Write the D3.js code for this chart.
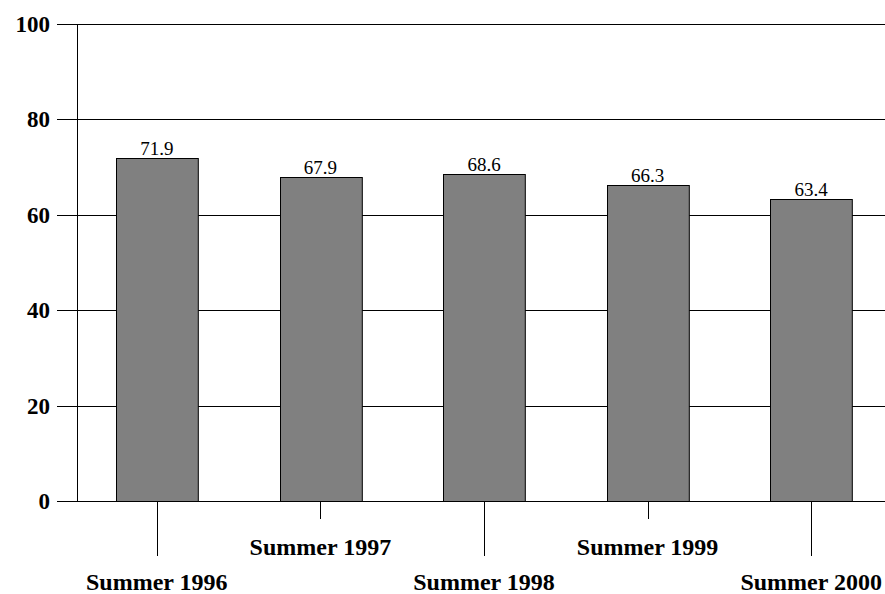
<!DOCTYPE html>
<html><head><meta charset="utf-8">
<script src="https://cdn.jsdelivr.net/npm/d3@7/dist/d3.min.js"></script>
<style>body{margin:0;background:#fff}svg{display:block}</style>
</head><body>
<script>
const categories = ["Summer 1996","Summer 1997","Summer 1998","Summer 1999","Summer 2000"];
const values = [71.9, 67.9, 68.6, 66.3, 63.4];
const yTicks = [0, 20, 40, 60, 80, 100];
const title = "(Percentages)";

const W = 885, H = 594;
const svg = d3.select("body").append("svg").attr("width", W).attr("height", H);
const serif = "'Liberation Serif','Times New Roman',serif";

const x = d3.scaleBand().domain(categories).range([75, 893]).paddingInner(0.5).paddingOuter(0.25);
const y = d3.scaleLinear().domain([0, 100]).range([501, 24]);

// title (cut off at the top edge, as in the reference)
svg.append("text").attr("x", 482).attr("y", -7).attr("font-family", serif)
  .attr("font-weight", "bold").attr("font-size", 29).text(title);

// gridlines
svg.append("g").selectAll("line").data(yTicks).join("line")
  .attr("x1", 57).attr("x2", W).attr("y1", d => Math.round(y(d)) + 0.5).attr("y2", d => Math.round(y(d)) + 0.5)
  .attr("stroke", "#000").attr("stroke-width", 1);

// y axis line
svg.append("line").attr("x1", 77.5).attr("x2", 77.5).attr("y1", y(100)).attr("y2", y(0))
  .attr("stroke", "#000").attr("stroke-width", 1);

// y labels
svg.append("g").selectAll("text").data(yTicks).join("text")
  .attr("x", 50).attr("y", d => y(d)).attr("dy", "0.35em").attr("text-anchor", "end")
  .attr("font-family", serif).attr("font-weight", "bold").attr("font-size", 23)
  .text(d => d);

// bars
svg.append("g").selectAll("rect").data(values).join("rect")
  .attr("x", (d, i) => Math.round(x(categories[i])) + 0.5)
  .attr("y", d => Math.round(y(d)) + 0.5)
  .attr("width", x.bandwidth())
  .attr("height", d => Math.round(y(0)) - Math.round(y(d)))
  .attr("fill", "#808080").attr("stroke", "#000").attr("stroke-width", 1);

// value labels
svg.append("g").selectAll("text").data(values).join("text")
  .attr("x", (d, i) => x(categories[i]) + x.bandwidth() / 2)
  .attr("y", d => y(d) - 3).attr("text-anchor", "middle")
  .attr("font-family", serif).attr("font-size", 19)
  .text(d => d.toFixed(1));

// x ticks (staggered)
svg.append("g").selectAll("line").data(categories).join("line")
  .attr("x1", d => Math.round(x(d) + x.bandwidth() / 2) + 0.5)
  .attr("x2", d => Math.round(x(d) + x.bandwidth() / 2) + 0.5)
  .attr("y1", y(0)).attr("y2", (d, i) => i % 2 === 0 ? 556 : 519)
  .attr("stroke", "#000").attr("stroke-width", 1);

svg.append("g").selectAll("text").data(categories).join("text")
  .attr("x", d => x(d) + x.bandwidth() / 2)
  .attr("y", (d, i) => i % 2 === 0 ? 590 : 555)
  .attr("text-anchor", "middle")
  .attr("font-family", serif).attr("font-weight", "bold").attr("font-size", 24)
  .text(d => d);
</script>
</body></html>
